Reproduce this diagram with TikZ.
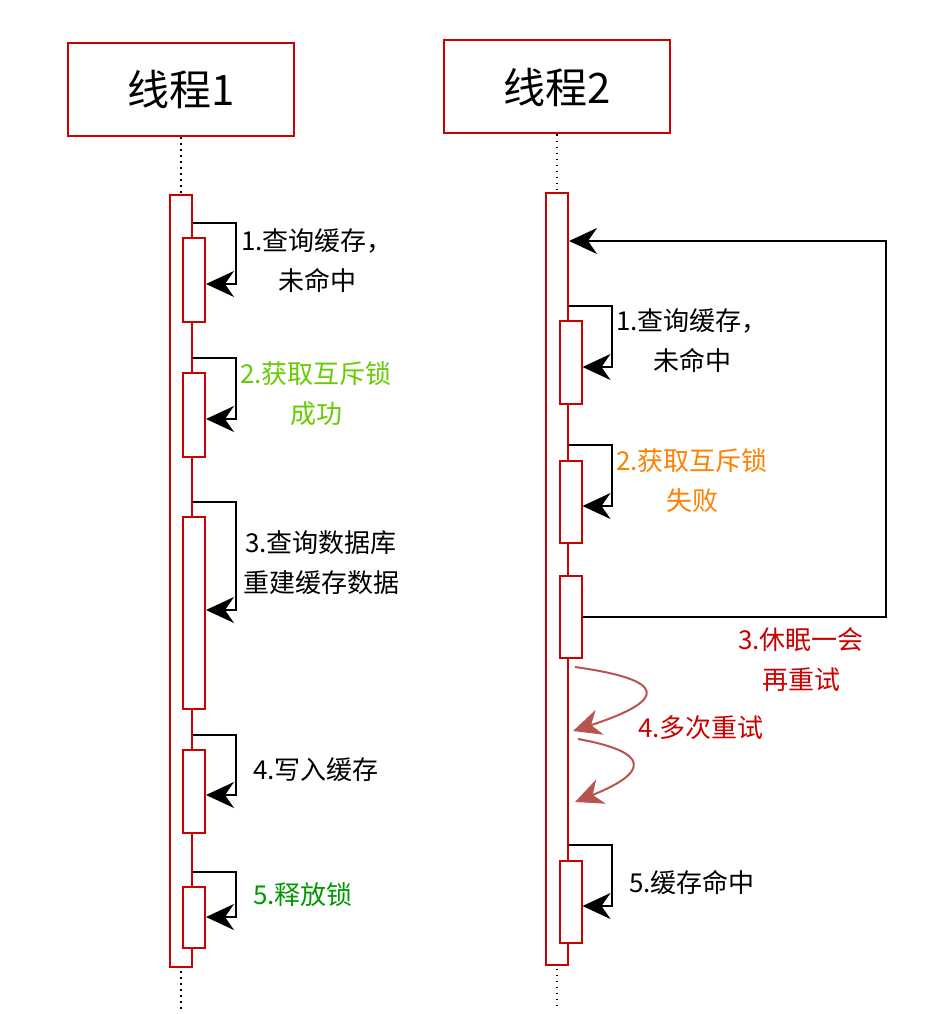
\documentclass[tikz,border=0pt]{standalone}
\usepackage{fontspec}
\setmainfont{Noto Sans CJK SC}
\usetikzlibrary{positioning,arrows.meta}
\definecolor{lred}{HTML}{CC0000}
\definecolor{okgreen}{HTML}{66CC00}
\definecolor{relgreen}{HTML}{009900}
\definecolor{failorange}{HTML}{FF8000}
\definecolor{retryred}{HTML}{B85450}
\tikzset{
  thread/.style={draw=lred,line width=2pt,minimum width=226pt,minimum height=93pt,font=\fontsize{42}{46}\selectfont},
  bar/.style={draw=lred,fill=white,line width=2pt,minimum width=22pt,inner sep=0pt},
  life/.style={line width=1.6pt,dash pattern=on 1.6pt off 4.4pt},
  lbl/.style={align=center,font=\fontsize{26}{40}\selectfont},
  arr/.style={line width=2pt,-{Stealth[length=28pt,width=26pt,inset=9pt]}},
  retry/.style={arr,draw=retryred}
}

\begin{document}
\begin{tikzpicture}[x=1pt,y=-1pt]
  \useasboundingbox (0,0) rectangle (936,1014);
  % threads and lifelines
  \node[thread] (th1) at (181,89.5) {线程1};
  \node[thread] (th2) at (557,87) {线程2};
  \coordinate (end1) at (181,1010);
  \coordinate (end2) at (557,1010);
  \draw[life] (th1) -- (end1);
  \draw[life] (th2) -- (end2);
  \node[bar,minimum height=772pt] (m1) at (181,581) {};
  \node[bar,minimum height=772pt] (m2) at (557,579) {};
  % thread 1 calls
  \node[bar,minimum height=84pt] (s1) at (194,280) {};
  \node[bar,minimum height=84pt] (s2) at (194,415) {};
  \node[bar,minimum height=192pt] (s3) at (194,613) {};
  \node[bar,minimum height=83pt] (s4) at (194,791.5) {};
  \node[bar,minimum height=61pt] (s5) at (194,917.5) {};
  \draw[arr] (m1.east |- 0,223) -| (236,284) -- (s1.east |- 0,284);
  \draw[arr] (m1.east |- 0,358) -| (236,419) -- (s2.east |- 0,419);
  \draw[arr] (m1.east |- 0,502) -| (236,610) -- (s3.east |- 0,610);
  \draw[arr] (m1.east |- 0,735) -| (236,795) -- (s4.east |- 0,795);
  \draw[arr] (m1.east |- 0,872) -| (236,917) -- (s5.east |- 0,917);
  \node[lbl] (l1) at (317,261) {1.查询缓存，\\未命中};
  \node[lbl,text=okgreen] (l2) at (316,394) {2.获取互斥锁\\成功};
  \node[lbl] (l3) at (321,563) {3.查询数据库\\重建缓存数据};
  \node[lbl] (l4) at (316,770) {4.写入缓存};
  \node[lbl,text=relgreen] (l5) at (303,895) {5.释放锁};
  % thread 2 calls
  \node[bar,minimum height=83pt] (t1) at (570.5,362.5) {};
  \node[bar,minimum height=82pt] (t2) at (570.5,502) {};
  \node[bar,minimum height=82pt] (t3) at (570.5,617) {};
  \node[bar,minimum height=82pt] (t4) at (570.5,902) {};
  \draw[arr] (m2.east |- 0,306) -| (612,367) -- (t1.east |- 0,367);
  \draw[arr] (m2.east |- 0,445) -| (612,506) -- (t2.east |- 0,506);
  \draw[arr] (m2.east |- 0,845) -| (612,906) -- (t4.east |- 0,906);
  \draw[arr] (t3.east) -| (886,241) -- (m2.east |- 0,241);
  % retries
  \coordinate (r1a) at (575,667);
  \coordinate (r1b) at (573,731);
  \coordinate (r2a) at (578,739);
  \coordinate (r2b) at (575,802);
  \draw[retry] (r1a) .. controls (668,680) and (668,700) .. (r1b);
  \draw[retry] (r2a) .. controls (650,752) and (650,772) .. (r2b);
  \node[lbl] (l6) at (692,341) {1.查询缓存，\\未命中};
  \node[lbl,text=failorange] (l7) at (692,481) {2.获取互斥锁\\失败};
  \node[lbl,text=lred] (l8) at (801,660) {3.休眠一会\\再重试};
  \node[lbl,text=lred] (l9) at (701,728) {4.多次重试};
  \node[lbl] (l10) at (692,882) {5.缓存命中};
\end{tikzpicture}
\end{document}
